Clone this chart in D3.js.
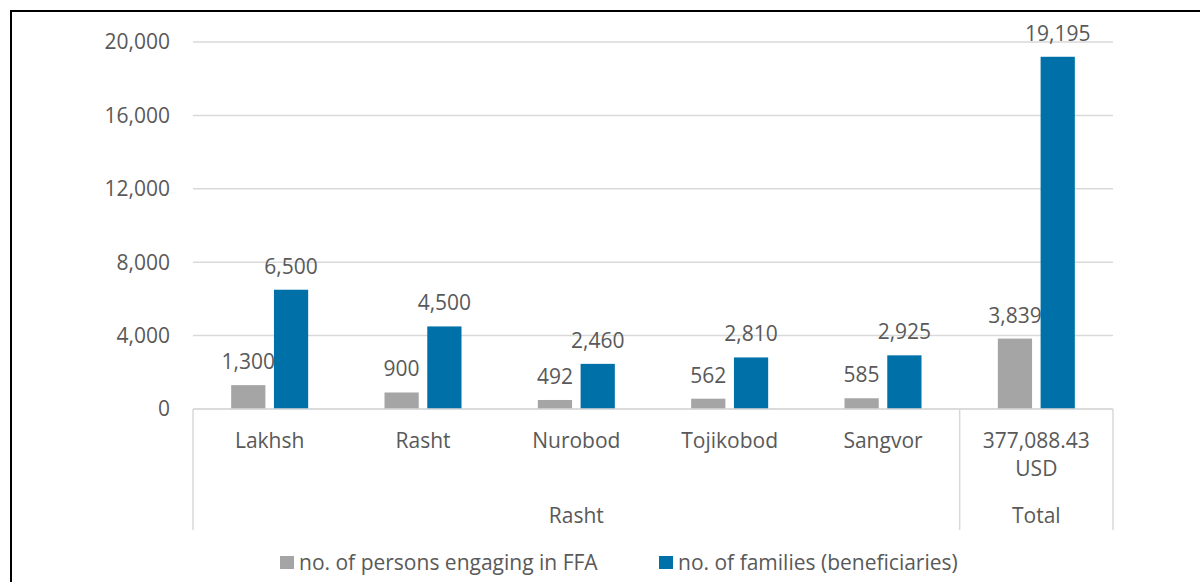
<!DOCTYPE html>
<html>
<head>
<meta charset="utf-8">
<script src="https://cdn.jsdelivr.net/npm/d3@7"></script>
<style>
  body { margin: 0; background: #fff; }
  text { font-family: "Open Sans", sans-serif; fill: #595959; }
</style>
</head>
<body>
<script>
// Chart data
var categories = ["Lakhsh", "Rasht", "Nurobod", "Tojikobod", "Sangvor", "377,088.43\nUSD"];
var groups = [
  { name: "Rasht", from: 0, to: 4 },
  { name: "Total", from: 5, to: 5 }
];
var seriesNames = ["no. of persons engaging in FFA", "no. of families (beneficiaries)"];
var persons = [1300, 900, 492, 562, 585, 3839];
var families = [6500, 4500, 2460, 2810, 2925, 19195];
var yTicks = [0, 4000, 8000, 12000, 16000, 20000];
var colors = ["#a5a5a5", "#0070a8"];

var svgWidth = 1200;
var svgHeight = 582;
var fontSize = "21px";

var margin = { top: 42, right: 87, bottom: 173, left: 193 };
var chartWidth = svgWidth - margin.left - margin.right;
var chartHeight = svgHeight - margin.top - margin.bottom;

var svg = d3.select("body")
  .append("svg")
  .attr("width", svgWidth)
  .attr("height", svgHeight);

// outer frame lines (top and left)
svg.append("line").attr("x1", 10).attr("x2", 1200).attr("y1", 11).attr("y2", 11)
  .attr("stroke", "#000").attr("stroke-width", 2);
svg.append("line").attr("x1", 11).attr("x2", 11).attr("y1", 10).attr("y2", 582)
  .attr("stroke", "#000").attr("stroke-width", 2);

var chartGroup = svg.append("g")
  .attr("transform", `translate(${margin.left}, ${margin.top})`);

var xScale = d3.scaleBand()
  .domain(d3.range(categories.length))
  .range([0, chartWidth]);

var xInner = d3.scaleBand()
  .domain([0, 1])
  .range([xScale.bandwidth() / 2 - 38.5, xScale.bandwidth() / 2 + 38.5])
  .paddingInner(0.2);

var yScale = d3.scaleLinear()
  .domain([0, 20000])
  .range([chartHeight, 0]);

// gridlines
chartGroup.selectAll(".grid")
  .data(yTicks)
  .enter()
  .append("line")
  .attr("x1", 0)
  .attr("x2", chartWidth)
  .attr("y1", d => yScale(d))
  .attr("y2", d => yScale(d))
  .attr("stroke", "#d9d9d9")
  .attr("stroke-width", 1.5);

// y tick labels
chartGroup.selectAll(".ylab")
  .data(yTicks)
  .enter()
  .append("text")
  .attr("x", -23)
  .attr("y", d => yScale(d))
  .attr("dy", "0.35em")
  .attr("text-anchor", "end")
  .style("font-size", fontSize)
  .text(d => d3.format(",")(d));

// bars
var series = [persons, families];
series.forEach(function(values, s) {
  var g = chartGroup.append("g");
  g.selectAll("rect")
    .data(values)
    .enter()
    .append("rect")
    .attr("x", (d, i) => xScale(i) + xInner(s))
    .attr("y", d => yScale(d))
    .attr("width", xInner.bandwidth())
    .attr("height", d => chartHeight - yScale(d))
    .attr("fill", colors[s]);
  g.selectAll("text")
    .data(values)
    .enter()
    .append("text")
    .attr("x", (d, i) => xScale(i) + xInner(s) + xInner.bandwidth() / 2)
    .attr("y", d => yScale(d) - 16)
    .attr("text-anchor", "middle")
    .style("font-size", fontSize)
    .text(d => d3.format(",")(d));
});

// category axis
var axisColor = "#d9d9d9";
chartGroup.append("line")
  .attr("x1", 0).attr("x2", chartWidth)
  .attr("y1", chartHeight).attr("y2", chartHeight)
  .attr("stroke", axisColor).attr("stroke-width", 1.5);

var sepX = [0, xScale(5), chartWidth];
chartGroup.selectAll(".sep")
  .data(sepX)
  .enter()
  .append("line")
  .attr("x1", d => d).attr("x2", d => d)
  .attr("y1", chartHeight).attr("y2", chartHeight + 121)
  .attr("stroke", axisColor).attr("stroke-width", 1.5);

chartGroup.selectAll(".xlab")
  .data(categories)
  .enter()
  .append("text")
  .attr("text-anchor", "middle")
  .style("font-size", fontSize)
  .attr("transform", (d, i) => `translate(${xScale(i) + xScale.bandwidth() / 2}, ${chartHeight + 39})`)
  .each(function(d) {
    d3.select(this).selectAll("tspan")
      .data(d.split("\n"))
      .enter()
      .append("tspan")
      .attr("x", 0)
      .attr("y", (t, j) => j * 28)
      .text(t => t);
  });

chartGroup.selectAll(".glab")
  .data(groups)
  .enter()
  .append("text")
  .attr("x", d => (xScale(d.from) + xScale(d.to) + xScale.bandwidth()) / 2)
  .attr("y", chartHeight + 114)
  .attr("text-anchor", "middle")
  .style("font-size", fontSize)
  .text(d => d.name);

// legend
var legendX = [280, 659];
var legend = svg.selectAll(".legend")
  .data(seriesNames)
  .enter()
  .append("g")
  .attr("transform", (d, i) => `translate(${legendX[i]}, 556)`);
legend.append("rect")
  .attr("width", 14).attr("height", 13)
  .attr("fill", (d, i) => colors[i]);
legend.append("text")
  .attr("x", 19)
  .attr("y", 6.5)
  .attr("dy", "0.35em")
  .style("font-size", fontSize)
  .text(d => d);
</script>
</body>
</html>
